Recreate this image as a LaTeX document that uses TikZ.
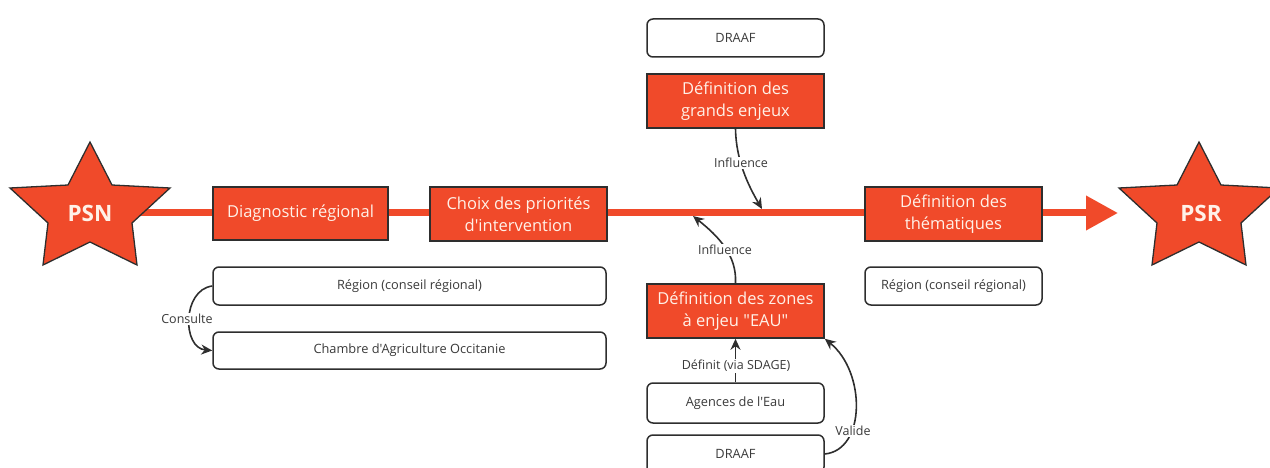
\documentclass[tikz,border=0pt]{standalone}
\usepackage{fontspec}
\setmainfont{Open Sans}[Ligatures=TeXOff]
\usetikzlibrary{arrows.meta,backgrounds}
\definecolor{mred}{HTML}{F04A2A}
\definecolor{mdark}{HTML}{2E2E2E}
\definecolor{mcream}{HTML}{FFF1E8}
\definecolor{mtext}{HTML}{3A3A3A}
\begin{document}
\begin{tikzpicture}[x=1pt,y=-1pt,
  redbox/.style={draw=mdark, line width=1.6pt, fill=mred, text=mcream,
    font=\fontsize{16.5}{22}\selectfont, align=center, inner sep=0pt,
    minimum width=177pt, minimum height=54pt},
  whitebox/.style={draw=mdark, line width=1.5pt, fill=white, rounded corners=6pt,
    font=\fontsize{12.8}{15}\selectfont, text=mtext, inner sep=0pt,
    minimum height=38pt},
  lbl/.style={font=\fontsize{12.5}{14}\selectfont, text=mtext, fill=white, inner sep=1.5pt},
  conn/.style={draw=mdark, line width=1.6pt, -{Stealth[length=11pt,width=10pt]}},
  starsty/.style={draw=mdark, line width=1.3pt, fill=mred, line join=miter},
  startext/.style={font=\fontsize{22.5}{26}\selectfont\bfseries, text=mcream}]
\useasboundingbox (0,0) rectangle (1270,468);
\clip (0,0) rectangle (1270,468);

% stars
\begin{scope}[shift={(90,210)}]
  \draw[starsty] (0,-68) -- (22,-25) -- (80,-22) -- (42,13) -- (47,55) -- (0,32)
    -- (-47,55) -- (-42,13) -- (-80,-22) -- (-22,-25) -- cycle;
\end{scope}
\begin{scope}[shift={(1199,210)}]
  \draw[starsty] (0,-68) -- (22,-25) -- (80,-22) -- (42,13) -- (47,55) -- (0,32)
    -- (-47,55) -- (-42,13) -- (-80,-22) -- (-22,-25) -- cycle;
\end{scope}
\node[startext] (PSN) at (90,213) {PSN};
\node[startext] (PSR) at (1201,213) {PSR};
\coordinate (tip) at (1118,213);

% red boxes
\node[redbox, minimum width=175pt, minimum height=53pt] (diag) at (300.5,213.5) {Diagnostic régional};
\node[redbox] (choix) at (518.5,214) {Choix des priorités\\d'intervention};
\node[redbox] (grands) at (735.5,101) {Définition des\\grands enjeux};
\node[redbox] (them) at (953.5,214) {Définition des\\thématiques};
\node[redbox] (zones) at (735.5,311) {Définition des zones\\à enjeu "EAU"};

% white boxes
\node[whitebox, minimum width=177pt] (draaf1) at (735.5,38) {DRAAF};
\node[whitebox, minimum width=177pt] (regionR) at (953.5,286) {Région (conseil régional)};
\node[whitebox, minimum width=393pt] (regionL) at (409.5,286) {Région (conseil régional)};
\node[whitebox, minimum width=393pt, minimum height=37pt] (chambre) at (409.5,350.5) {Chambre d'Agriculture Occitanie};
\node[whitebox, minimum width=177pt, minimum height=40pt] (agences) at (735.5,403) {Agences de l'Eau};
\node[whitebox, minimum width=177pt] (draaf2) at (735.5,454) {DRAAF};

% main line
\begin{scope}[on background layer]
  \draw[mred, line width=7pt, -{Triangle[length=32pt,width=33pt]}] (PSN.center) -- (tip);
\end{scope}

% connectors
\coordinate (t1) at (762,209);
\coordinate (t2) at (693,216);
\draw[conn] (grands.south) .. controls (736,160) and (748,185) .. (t1);
\node[lbl] (linf1) at (741,163) {Influence};
\draw[conn] (zones.north) .. controls (737,255) and (718,236) .. (t2);
\node[lbl] (linf2) at (725,250) {Influence};
\draw[conn] (agences.north) -- (zones.south);
\node[lbl] (ldef) at (736,366) {Définit (via SDAGE)};
\draw[conn] (draaf2.east) .. controls (866,450) and (866,372) .. (zones.south east);
\node[lbl] (lval) at (853,431) {Valide};
\draw[conn] (regionL.west) .. controls (182,290) and (182,348) .. (chambre.west);
\node[lbl] (lcons) at (187,319) {Consulte};
\end{tikzpicture}
\end{document}
